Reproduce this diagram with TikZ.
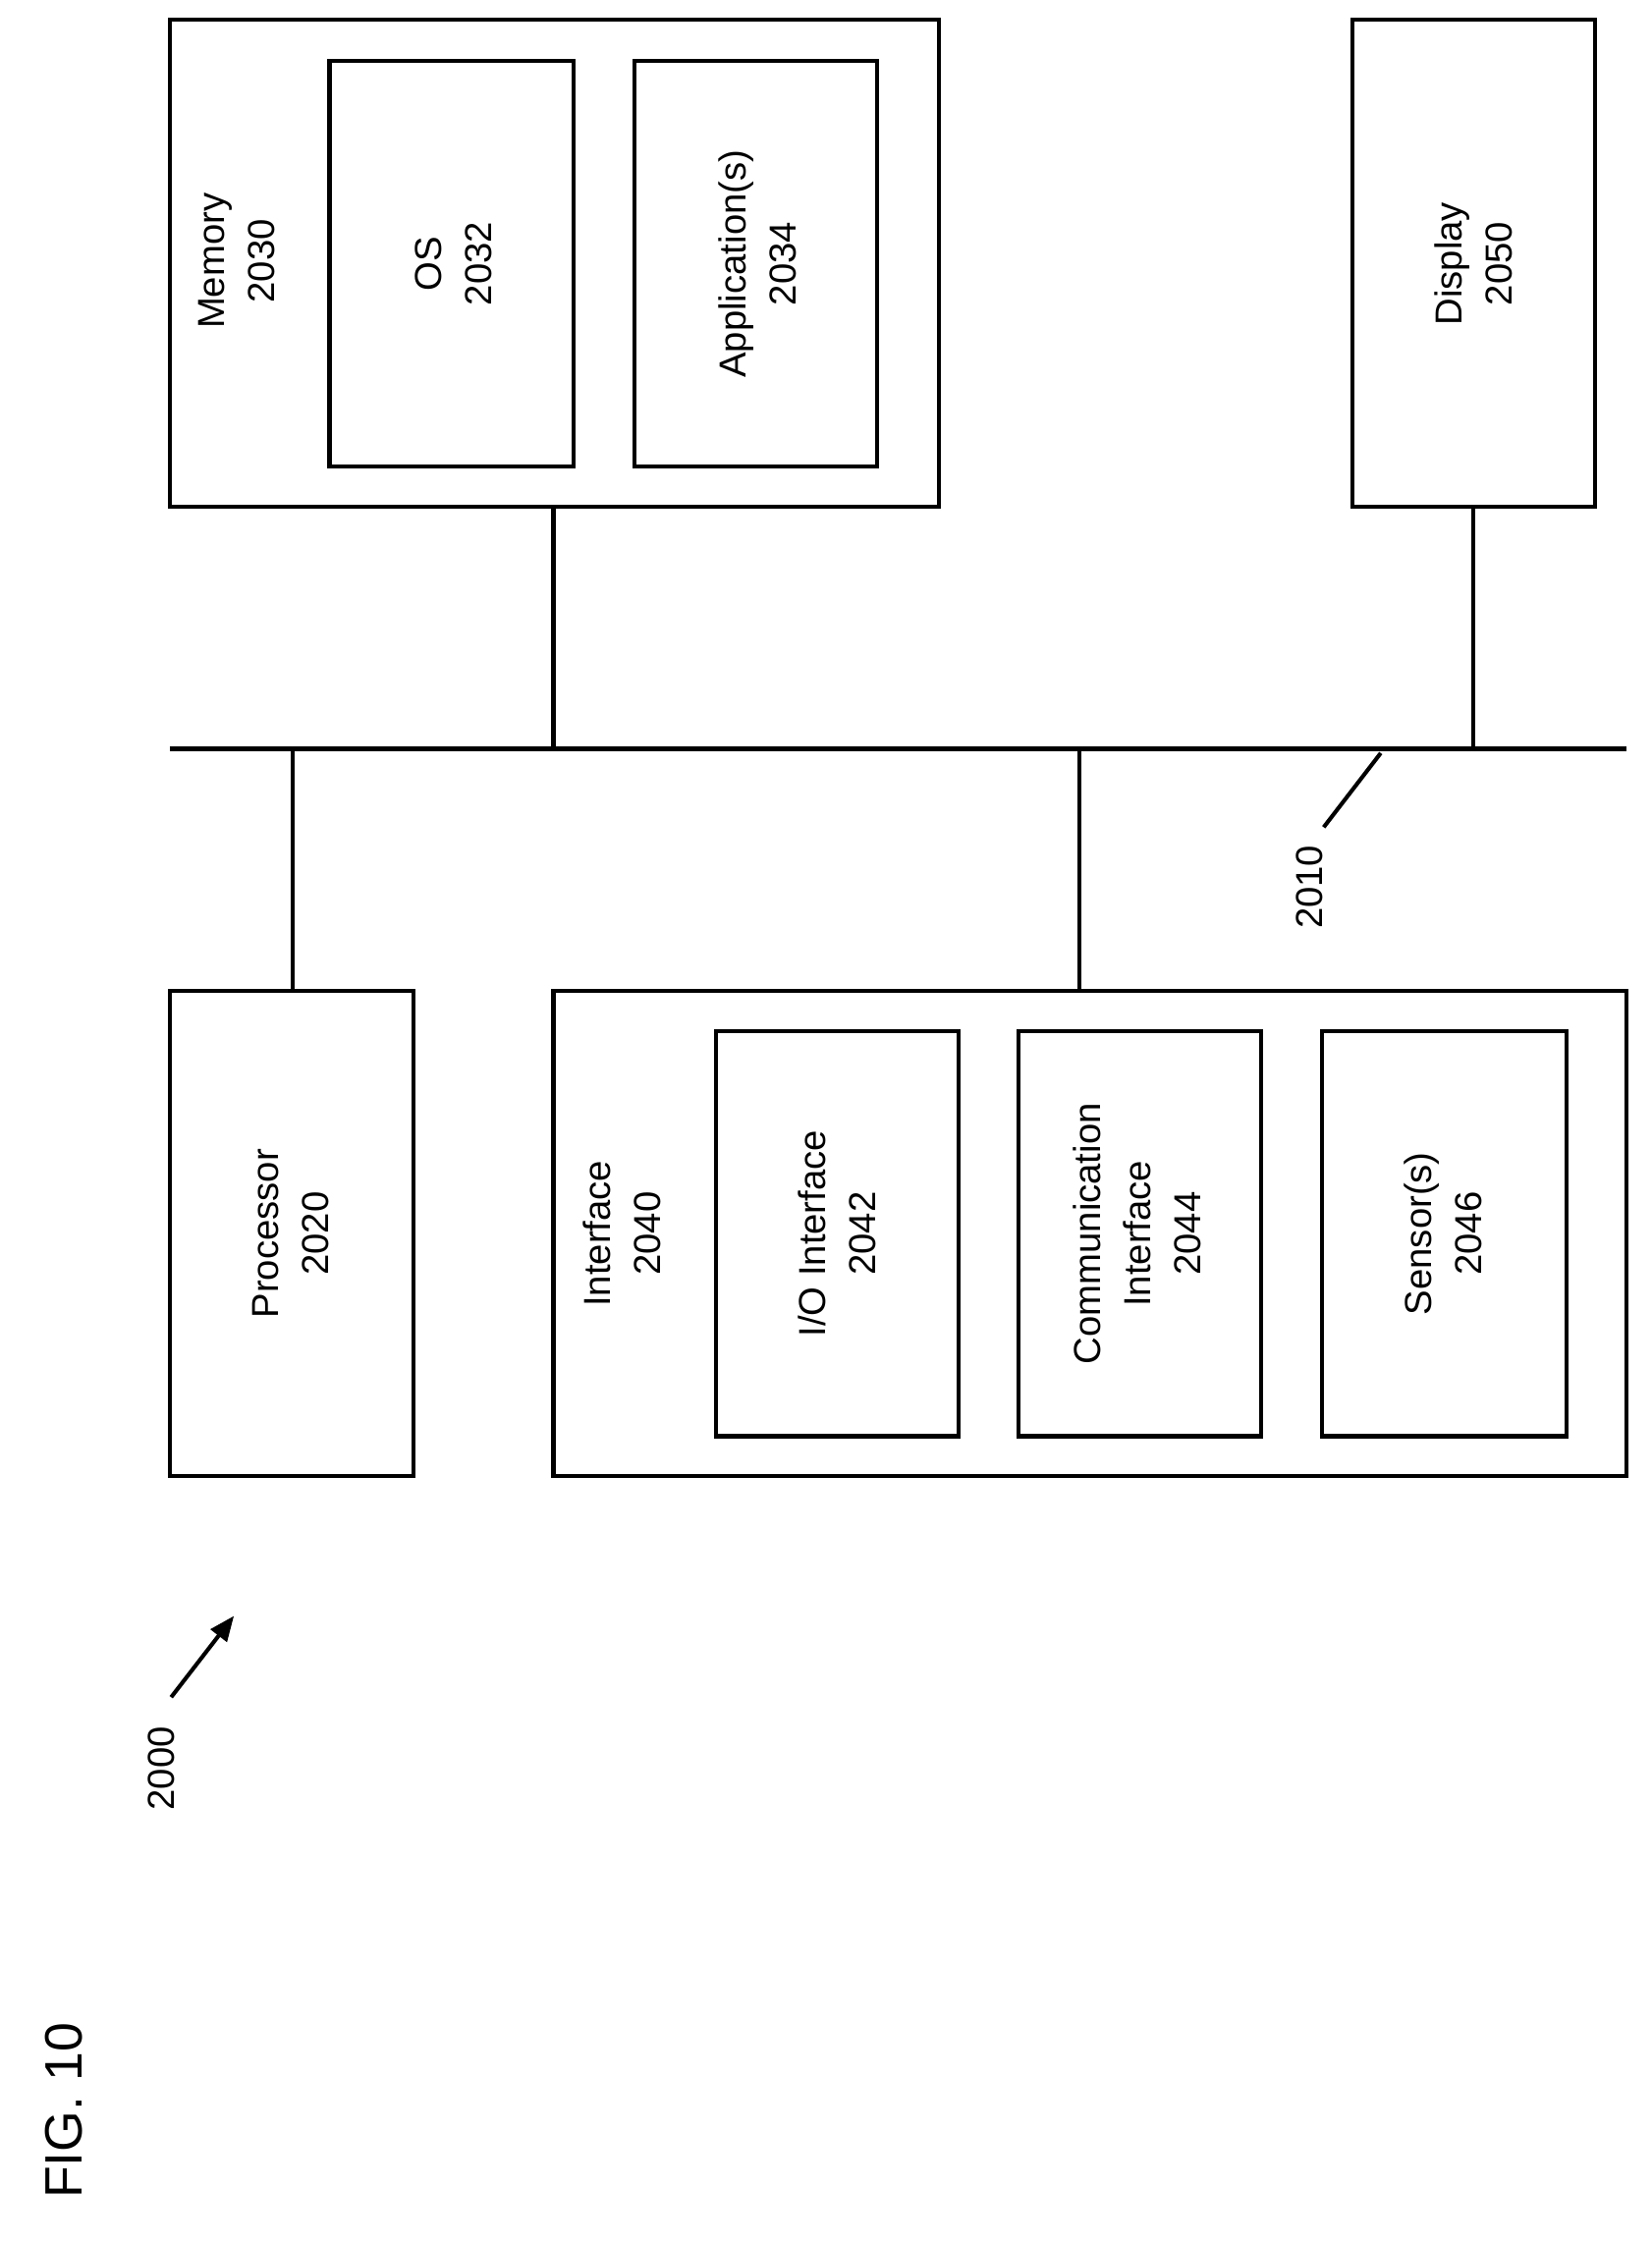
\documentclass[tikz,border=0pt]{standalone}
\usepackage{fontspec}
\setmainfont{Liberation Sans}
\usetikzlibrary{positioning,arrows.meta}

\tikzset{
	lbl/.style={rotate=90, align=center, font=\fontsize{15}{20}\selectfont},
	wire/.style={line width=1.6pt}
}

\begin{document}
\begin{tikzpicture}[x=0.02cm, y=-0.02cm]
		\useasboundingbox (0, 0) rectangle (1158, 1572);
		% boxes
		\draw[wire] (119, 14) rectangle (658, 355);
		\draw[wire] (231, 43) rectangle (402, 327);
		\draw[wire] (445, 43) rectangle (615, 327);
		\draw[wire] (948, 14) rectangle (1118, 355);
		\draw[wire] (119, 695) rectangle (290, 1035);
		\draw[wire] (388, 695) rectangle (1140, 1035);
		\draw[wire] (502, 723) rectangle (672, 1007);
		\draw[wire] (714, 723) rectangle (884, 1007);
		\draw[wire] (927, 723) rectangle (1098, 1007);
		
		\node[lbl] (mem) at (166, 183) {Memory\\2030};
		\node[lbl] (os) at (318, 185) {OS\\2032};
		\node[lbl] (app) at (531, 185) {Application(s)\\2034};
		\node[lbl] (disp) at (1033, 185) {Display\\2050};
		\node[lbl] (proc) at (204, 865) {Processor\\2020};
		\node[lbl] (intf) at (436, 865) {Interface\\2040};
		\node[lbl] (io) at (587, 865) {I/O Interface\\2042};
		\node[lbl] (comm) at (797, 865) {Communication\\Interface\\2044};
		\node[lbl] (sens) at (1012, 865) {Sensor(s)\\2046};
		
		% bus
		\coordinate (busL) at (119, 525);
		\coordinate (busR) at (1140, 525);
		\draw[wire] (busL) -- (busR);
		\draw[wire] (388, 355) -- (388, 525);
		\draw[wire] (1033, 355) -- (1033, 525);
		\draw[wire] (205, 525) -- (205, 695);
		\draw[wire] (757, 525) -- (757, 695);
		
		\node[lbl] (bus) at (918, 622) {2010};
		\draw[wire] (968, 528) -- (928, 580);
		
		\node[lbl] (sys) at (113, 1240) {2000};
		\draw[wire, -{Triangle[length=10pt, width=8pt]}] (120, 1190) -- (164, 1133);
		
		\node[rotate=90, font=\fontsize{21}{24}\selectfont] (fig) at (45, 1480) {FIG. 10};
	\end{tikzpicture}
\end{document}
